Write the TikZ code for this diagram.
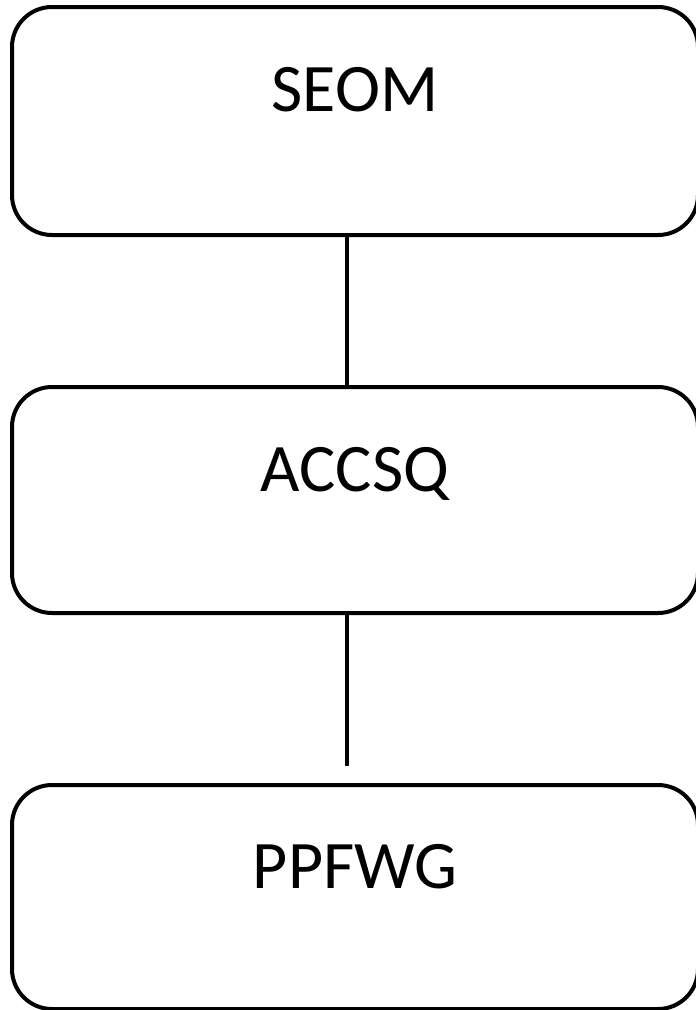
\documentclass[tikz,border=0pt]{standalone}
\usepackage{fontspec}
\setmainfont{Carlito}
\usetikzlibrary{positioning}

\begin{document}
\begin{tikzpicture}[x=1pt,y=-1pt]

	\tikzstyle{group}=[draw=black,line width=4pt,rounded corners=40pt,minimum width=686pt,inner sep=0pt]
	\tikzstyle{title}=[font=\fontsize{68}{80}\selectfont,anchor=base,inner sep=0pt]

	\useasboundingbox (0,0) rectangle (696,1010);

	\node [group,minimum height=228pt] (seom)  at (355,121) {};
	\node [group,minimum height=226pt] (accsq) at (355,500) {};
	\node [group,minimum height=224pt] (ppfwg) at (355,897) {};

	\node [title] (seomtext)  at ([yshift=-106pt]seom.north)  {SEOM};
	\node [title] (accsqtext) at ([yshift=-106pt]accsq.north) {ACCSQ};
	\node [title] (ppfwgtext) at ([yshift=-105pt]ppfwg.north) {PPFWG};

	\coordinate (end) at (347,766);

	\draw [line width=4pt] ([xshift=-8pt]seom.south) -- ([xshift=-8pt]accsq.north);
	\draw [line width=4pt] ([xshift=-8pt]accsq.south) -- (end);
\end{tikzpicture}
\end{document}
